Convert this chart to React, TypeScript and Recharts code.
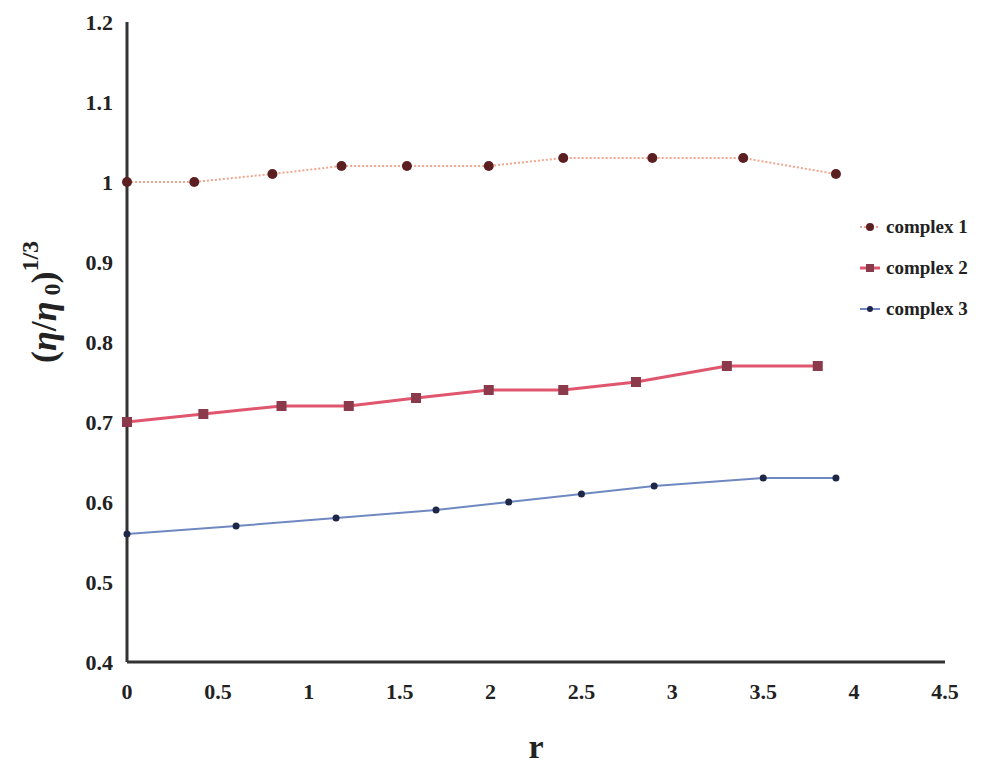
import { LineChart, Line, XAxis, YAxis } from "recharts";

const xTicks = [0, 0.5, 1, 1.5, 2, 2.5, 3, 3.5, 4, 4.5];
const yTicks = [0.4, 0.5, 0.6, 0.7, 0.8, 0.9, 1, 1.1, 1.2];

const complex1R = [0, 0.37, 0.8, 1.18, 1.54, 1.99, 2.4, 2.89, 3.39, 3.9];
const complex1Eta = [1.0, 1.0, 1.01, 1.02, 1.02, 1.02, 1.03, 1.03, 1.03, 1.01];

const complex2R = [0, 0.42, 0.85, 1.22, 1.59, 1.99, 2.4, 2.8, 3.3, 3.8];
const complex2Eta = [0.7, 0.71, 0.72, 0.72, 0.73, 0.74, 0.74, 0.75, 0.77, 0.77];

const complex3R = [0, 0.6, 1.15, 1.7, 2.1, 2.5, 2.9, 3.5, 3.9];
const complex3Eta = [0.56, 0.57, 0.58, 0.59, 0.6, 0.61, 0.62, 0.63, 0.63];

const toPoints = (xs: number[], ys: number[]) => xs.map((x, i) => ({ x, y: ys[i] }));

const FONT = "'Liberation Serif', 'DejaVu Serif', serif";

const series = [
  { name: "complex 1", data: toPoints(complex1R, complex1Eta), line: "#f2a58c", dot: "#5b1f22", dash: "2 2", width: 2, shape: "circle" },
  { name: "complex 2", data: toPoints(complex2R, complex2Eta), line: "#e0566e", dot: "#8a3a4b", dash: undefined, width: 3, shape: "square" },
  { name: "complex 3", data: toPoints(complex3R, complex3Eta), line: "#7088c2", dot: "#1e2748", dash: undefined, width: 2, shape: "small" },
];

function makeDot(shape: string, color: string) {
  return (props: any) => {
    const { cx, cy, index } = props;
    if (cx == null || cy == null) return <g key={index} />;
    if (shape === "square") {
      return <rect key={index} x={cx - 5} y={cy - 5} width={10} height={10} fill={color} />;
    }
    if (shape === "small") {
      return <circle key={index} cx={cx} cy={cy} r={3.5} fill={color} />;
    }
    return <circle key={index} cx={cx} cy={cy} r={5} fill={color} />;
  };
}

// legend drawn outside the chart so it doesn't eat plot space
function LegendBox() {
  return (
    <div
      style={{
        position: "absolute",
        left: 860,
        top: 206,
        fontFamily: FONT,
        fontWeight: "bold",
        fontSize: 19,
        color: "#222",
      }}
    >
      {series.map((s) => (
        <div key={s.name} style={{ display: "flex", alignItems: "center", height: 41 }}>
          <svg width={20} height={12} style={{ marginRight: 6 }}>
            <line x1={0} y1={6} x2={20} y2={6} stroke={s.line} strokeWidth={s.width} strokeDasharray={s.dash} />
            {s.shape === "square" ? (
              <rect x={6} y={2} width={8} height={8} fill={s.dot} />
            ) : (
              <circle cx={10} cy={6} r={s.shape === "small" ? 3 : 4} fill={s.dot} />
            )}
          </svg>
          <span>{s.name}</span>
        </div>
      ))}
    </div>
  );
}

function YLabel() {
  const cx = 44;
  const cy = 302;
  return (
    <text
      x={cx}
      y={cy}
      transform={`rotate(-90, ${cx}, ${cy})`}
      textAnchor="middle"
      dominantBaseline="central"
      fontFamily={FONT}
      fontWeight="bold"
      fontSize={36}
      fill="#222"
    >
      <tspan>(</tspan>
      <tspan fontStyle="italic">η</tspan>
      <tspan>/</tspan>
      <tspan fontStyle="italic">η</tspan>
      <tspan dy={8} fontSize={24}> 0</tspan>
      <tspan dy={-8}>)</tspan>
      <tspan dy={-14} fontSize={24}>1/3</tspan>
    </text>
  );
}

function XLabel() {
  return (
    <text x={536} y={746} textAnchor="middle" dominantBaseline="central" fontFamily={FONT} fontWeight="bold" fontSize={34} fill="#222">
      r
    </text>
  );
}

export default function App() {
  return (
    <div style={{ position: "absolute", left: 0, top: 0, width: 1000, height: 773, background: "#fff" }}>
      <LineChart width={1000} height={773} margin={{ top: 22, right: 55, bottom: 0, left: 0 }}>
        <XAxis
          dataKey="x"
          type="number"
          domain={[0, 4.5]}
          ticks={xTicks}
          allowDuplicatedCategory={false}
          height={111}
          axisLine={{ stroke: "#333", strokeWidth: 3 }}
          tickLine={false}
          tickSize={0}
          tickMargin={21}
          tick={{ fontFamily: FONT, fontWeight: "bold", fontSize: 22, fill: "#222" }}
          label={<XLabel />}
        />
        <YAxis
          type="number"
          domain={[0.4, 1.2]}
          ticks={yTicks}
          width={127}
          axisLine={{ stroke: "#333", strokeWidth: 3 }}
          tickLine={false}
          tickSize={0}
          tickMargin={14}
          tick={{ fontFamily: FONT, fontWeight: "bold", fontSize: 22, fill: "#222" }}
          label={<YLabel />}
        />
        {series.map((s) => (
          <Line
            key={s.name}
            data={s.data}
            dataKey="y"
            name={s.name}
            type="linear"
            stroke={s.line}
            strokeWidth={s.width}
            strokeDasharray={s.dash}
            dot={makeDot(s.shape, s.dot)}
            activeDot={false}
            isAnimationActive={false}
          />
        ))}
      </LineChart>
      <LegendBox />
    </div>
  );
}
